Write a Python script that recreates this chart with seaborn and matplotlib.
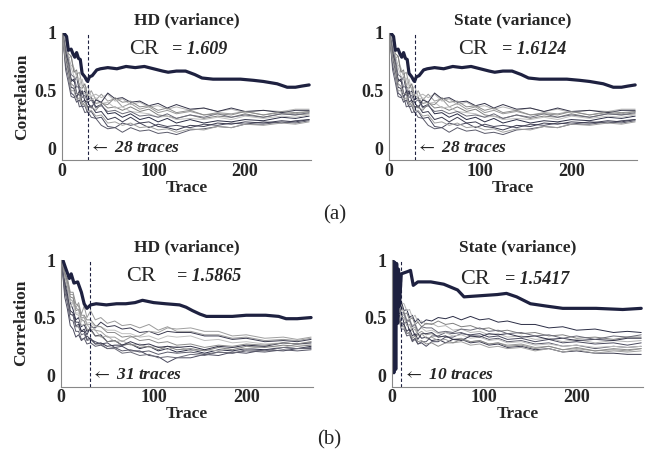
import numpy as np
import pandas as pd
import matplotlib
matplotlib.use("Agg")
import matplotlib.pyplot as plt
import seaborn as sns

# ---------------- data ----------------
TITLES = ["HD (variance)", "State (variance)", "HD (variance)", "State (variance)"]
CR_VALUES = ["1.609", "1.6124", "1.5865", "1.5417"]
TRACES_NEEDED = [28, 28, 31, 10]
X_TICKS = [0, 100, 200]
Y_TICKS = [0, 0.5, 1]
Y_TICK_LABELS = ["0", "0.5", "1"]

# correct-key curves
X_CA = [2, 5, 7, 10, 12, 14, 16, 18, 20, 22, 25, 27, 28, 30, 33, 38, 42, 50, 60, 70, 80, 90, 100,
        110, 116, 125, 135, 145, 153, 165, 180, 195, 209, 220, 235, 246, 255, 262, 270]
Y_CA = [1.0, 0.97, 0.85, 0.86, 0.82, 0.79, 0.83, 0.78, 0.77, 0.65, 0.62, 0.59, 0.58, 0.62, 0.63,
        0.68, 0.69, 0.70, 0.69, 0.71, 0.70, 0.71, 0.69, 0.67, 0.66, 0.67, 0.67, 0.64, 0.61, 0.60,
        0.60, 0.60, 0.59, 0.58, 0.56, 0.53, 0.53, 0.54, 0.55]
X_CB = [2, 5, 9, 11, 14, 18, 22, 25, 28, 32, 38, 49, 60, 70, 80, 88, 100, 113, 128, 135, 142,
        150, 157, 170, 185, 200, 221, 235, 243, 255, 270]
Y_CB = [1.0, 0.93, 0.84, 0.88, 0.80, 0.81, 0.72, 0.62, 0.58, 0.61, 0.62, 0.61, 0.62, 0.62, 0.63,
        0.65, 0.63, 0.62, 0.61, 0.59, 0.56, 0.53, 0.51, 0.51, 0.51, 0.52, 0.52, 0.51, 0.49, 0.49, 0.50]
X_CC = [1, 2, 3, 4, 5, 6, 7, 8, 10, 17, 20, 23, 28, 42, 56, 71, 78, 96, 114, 124, 135, 150, 167,
        185, 221, 250, 270]
Y_CC = [1.0, 0.02, 0.98, 0.05, 0.97, 0.45, 0.92, 0.60, 0.88, 0.90, 0.91, 0.78, 0.81, 0.81, 0.79,
        0.74, 0.68, 0.69, 0.70, 0.71, 0.68, 0.62, 0.60, 0.58, 0.58, 0.57, 0.58]

# wrong-key curves
X_G = [1, 4, 7, 10, 13, 16, 19, 22, 25, 28, 32, 37, 43, 50, 58, 66, 75, 85, 95, 105, 115, 125,
       140, 155, 170, 185, 200, 220, 240, 255, 270]
X_G2 = [4, 6, 8, 10, 13, 16, 19, 22, 25, 28, 32, 37, 43, 50, 58, 66, 75, 85, 95, 105, 115, 125,
        140, 155, 170, 185, 200, 220, 240, 255, 270]

G_A = [
    [1.0, 0.82, 0.72, 0.6, 0.58, 0.62, 0.5, 0.47, 0.5, 0.42, 0.44, 0.36, 0.38, 0.30, 0.31, 0.27, 0.30, 0.25, 0.27, 0.23, 0.26, 0.22, 0.25, 0.22, 0.24, 0.23, 0.25, 0.24, 0.27, 0.26, 0.28],
    [0.98, 0.9, 0.78, 0.8, 0.68, 0.64, 0.66, 0.55, 0.52, 0.45, 0.5, 0.42, 0.47, 0.41, 0.43, 0.36, 0.39, 0.34, 0.36, 0.31, 0.33, 0.30, 0.32, 0.29, 0.31, 0.30, 0.32, 0.29, 0.31, 0.30, 0.32],
    [0.95, 0.72, 0.62, 0.48, 0.46, 0.40, 0.42, 0.36, 0.37, 0.31, 0.32, 0.26, 0.27, 0.19, 0.18, 0.22, 0.20, 0.22, 0.18, 0.21, 0.19, 0.20, 0.18, 0.21, 0.20, 0.22, 0.21, 0.23, 0.22, 0.24, 0.25],
    [1.0, 0.88, 0.8, 0.72, 0.7, 0.62, 0.55, 0.6, 0.5, 0.54, 0.45, 0.47, 0.44, 0.47, 0.41, 0.43, 0.38, 0.40, 0.36, 0.37, 0.34, 0.36, 0.33, 0.35, 0.32, 0.34, 0.31, 0.33, 0.32, 0.34, 0.34],
    [0.97, 0.78, 0.67, 0.53, 0.52, 0.44, 0.5, 0.4, 0.42, 0.36, 0.37, 0.31, 0.32, 0.25, 0.27, 0.23, 0.27, 0.22, 0.23, 0.19, 0.18, 0.16, 0.2, 0.19, 0.22, 0.21, 0.23, 0.22, 0.24, 0.23, 0.25],
    [0.99, 0.93, 0.82, 0.8, 0.66, 0.68, 0.53, 0.52, 0.56, 0.46, 0.44, 0.39, 0.40, 0.35, 0.36, 0.33, 0.36, 0.32, 0.34, 0.29, 0.28, 0.26, 0.29, 0.26, 0.28, 0.27, 0.30, 0.27, 0.30, 0.29, 0.30],
    [0.96, 0.68, 0.57, 0.45, 0.44, 0.46, 0.36, 0.37, 0.31, 0.32, 0.27, 0.26, 0.20, 0.17, 0.18, 0.14, 0.18, 0.15, 0.16, 0.13, 0.14, 0.12, 0.16, 0.17, 0.19, 0.18, 0.21, 0.21, 0.23, 0.22, 0.24],
    [1.0, 0.9, 0.76, 0.7, 0.63, 0.6, 0.61, 0.5, 0.47, 0.48, 0.42, 0.44, 0.39, 0.40, 0.35, 0.36, 0.32, 0.31, 0.30, 0.27, 0.28, 0.25, 0.26, 0.25, 0.27, 0.25, 0.28, 0.26, 0.28, 0.27, 0.29],
    [0.98, 0.84, 0.74, 0.58, 0.6, 0.48, 0.46, 0.5, 0.41, 0.4, 0.35, 0.42, 0.4, 0.48, 0.43, 0.44, 0.40, 0.41, 0.37, 0.39, 0.35, 0.38, 0.34, 0.35, 0.32, 0.35, 0.32, 0.33, 0.31, 0.33, 0.33],
    [0.95, 0.76, 0.64, 0.5, 0.5, 0.42, 0.44, 0.38, 0.38, 0.33, 0.33, 0.28, 0.29, 0.22, 0.23, 0.20, 0.22, 0.18, 0.19, 0.16, 0.17, 0.14, 0.17, 0.16, 0.19, 0.18, 0.21, 0.20, 0.22, 0.21, 0.23],
    [1.0, 0.86, 0.77, 0.64, 0.62, 0.53, 0.54, 0.44, 0.46, 0.4, 0.42, 0.35, 0.37, 0.32, 0.33, 0.30, 0.32, 0.28, 0.29, 0.27, 0.30, 0.26, 0.29, 0.27, 0.30, 0.27, 0.29, 0.27, 0.30, 0.29, 0.31],
    [0.97, 0.8, 0.72, 0.56, 0.54, 0.48, 0.47, 0.38, 0.4, 0.35, 0.36, 0.33, 0.39, 0.38, 0.44, 0.40, 0.41, 0.36, 0.37, 0.33, 0.35, 0.31, 0.33, 0.29, 0.30, 0.29, 0.32, 0.29, 0.32, 0.31, 0.32],
]
G_B = [
    [0.98, 0.83, 0.74, 0.63, 0.57, 0.48, 0.5, 0.42, 0.44, 0.38, 0.40, 0.34, 0.35, 0.29, 0.30, 0.26, 0.27, 0.23, 0.25, 0.21, 0.23, 0.20, 0.22, 0.19, 0.22, 0.21, 0.23, 0.22, 0.24, 0.23, 0.25],
    [1.0, 0.88, 0.82, 0.7, 0.7, 0.58, 0.63, 0.53, 0.6, 0.5, 0.56, 0.48, 0.5, 0.45, 0.47, 0.43, 0.44, 0.41, 0.44, 0.39, 0.42, 0.38, 0.38, 0.35, 0.35, 0.32, 0.33, 0.30, 0.31, 0.30, 0.32],
    [0.96, 0.68, 0.57, 0.43, 0.4, 0.33, 0.35, 0.30, 0.32, 0.34, 0.31, 0.29, 0.27, 0.28, 0.24, 0.25, 0.21, 0.21, 0.17, 0.16, 0.11, 0.15, 0.15, 0.18, 0.17, 0.2, 0.19, 0.22, 0.21, 0.23, 0.23],
    [0.99, 0.86, 0.77, 0.58, 0.64, 0.53, 0.52, 0.43, 0.44, 0.44, 0.4, 0.39, 0.33, 0.34, 0.29, 0.30, 0.26, 0.27, 0.24, 0.25, 0.22, 0.25, 0.21, 0.22, 0.21, 0.24, 0.23, 0.25, 0.24, 0.27, 0.27],
    [0.97, 0.8, 0.7, 0.53, 0.52, 0.43, 0.44, 0.38, 0.4, 0.35, 0.42, 0.41, 0.46, 0.42, 0.43, 0.40, 0.41, 0.37, 0.38, 0.35, 0.38, 0.37, 0.37, 0.34, 0.34, 0.31, 0.32, 0.29, 0.30, 0.29, 0.31],
    [1.0, 0.9, 0.8, 0.68, 0.67, 0.56, 0.57, 0.48, 0.47, 0.4, 0.39, 0.34, 0.34, 0.29, 0.3, 0.26, 0.27, 0.24, 0.25, 0.22, 0.25, 0.22, 0.23, 0.21, 0.24, 0.22, 0.25, 0.24, 0.26, 0.25, 0.26],
    [0.95, 0.73, 0.62, 0.48, 0.47, 0.38, 0.38, 0.31, 0.32, 0.27, 0.28, 0.25, 0.26, 0.23, 0.24, 0.21, 0.22, 0.2, 0.21, 0.18, 0.2, 0.19, 0.2, 0.18, 0.2, 0.19, 0.21, 0.2, 0.22, 0.21, 0.22],
    [0.98, 0.84, 0.76, 0.64, 0.62, 0.54, 0.54, 0.46, 0.52, 0.45, 0.46, 0.42, 0.42, 0.39, 0.39, 0.36, 0.36, 0.33, 0.34, 0.31, 0.34, 0.33, 0.34, 0.30, 0.31, 0.28, 0.29, 0.27, 0.28, 0.27, 0.29],
    [0.99, 0.78, 0.67, 0.56, 0.54, 0.46, 0.46, 0.38, 0.38, 0.31, 0.32, 0.27, 0.28, 0.25, 0.26, 0.26, 0.29, 0.26, 0.27, 0.24, 0.25, 0.24, 0.25, 0.22, 0.25, 0.24, 0.26, 0.25, 0.28, 0.27, 0.28],
    [0.97, 0.86, 0.78, 0.66, 0.64, 0.58, 0.57, 0.5, 0.5, 0.44, 0.44, 0.39, 0.38, 0.33, 0.33, 0.29, 0.33, 0.34, 0.38, 0.37, 0.41, 0.4, 0.41, 0.38, 0.38, 0.34, 0.35, 0.32, 0.33, 0.31, 0.33],
    [0.96, 0.76, 0.66, 0.53, 0.52, 0.42, 0.42, 0.35, 0.36, 0.3, 0.31, 0.27, 0.27, 0.23, 0.23, 0.19, 0.2, 0.17, 0.18, 0.15, 0.16, 0.15, 0.18, 0.17, 0.2, 0.19, 0.22, 0.21, 0.24, 0.23, 0.24],
    [1.0, 0.88, 0.84, 0.72, 0.72, 0.62, 0.6, 0.52, 0.52, 0.48, 0.48, 0.43, 0.42, 0.37, 0.37, 0.33, 0.34, 0.30, 0.31, 0.28, 0.29, 0.26, 0.27, 0.24, 0.26, 0.25, 0.27, 0.26, 0.28, 0.27, 0.29],
]
G_C = [
    [0.62, 0.7, 0.58, 0.64, 0.56, 0.57, 0.5, 0.52, 0.46, 0.49, 0.45, 0.48, 0.47, 0.50, 0.49, 0.51, 0.48, 0.51, 0.48, 0.49, 0.46, 0.47, 0.44, 0.44, 0.41, 0.42, 0.39, 0.40, 0.37, 0.38, 0.37],
    [0.72, 0.63, 0.62, 0.53, 0.52, 0.46, 0.47, 0.40, 0.42, 0.36, 0.38, 0.35, 0.36, 0.33, 0.34, 0.31, 0.32, 0.29, 0.30, 0.27, 0.28, 0.26, 0.27, 0.24, 0.25, 0.22, 0.23, 0.21, 0.22, 0.21, 0.23],
    [0.55, 0.48, 0.47, 0.46, 0.44, 0.36, 0.37, 0.30, 0.32, 0.27, 0.28, 0.25, 0.29, 0.29, 0.33, 0.33, 0.36, 0.35, 0.36, 0.33, 0.34, 0.31, 0.32, 0.29, 0.31, 0.28, 0.29, 0.27, 0.28, 0.26, 0.28],
    [0.75, 0.7, 0.72, 0.63, 0.62, 0.56, 0.57, 0.5, 0.52, 0.46, 0.47, 0.44, 0.45, 0.42, 0.43, 0.39, 0.40, 0.37, 0.38, 0.35, 0.36, 0.33, 0.34, 0.31, 0.32, 0.29, 0.31, 0.28, 0.30, 0.29, 0.30],
    [0.6, 0.53, 0.52, 0.43, 0.44, 0.38, 0.4, 0.34, 0.36, 0.31, 0.36, 0.36, 0.37, 0.33, 0.34, 0.31, 0.31, 0.28, 0.29, 0.26, 0.27, 0.24, 0.25, 0.22, 0.23, 0.20, 0.21, 0.19, 0.19, 0.18, 0.18],
    [0.68, 0.72, 0.64, 0.62, 0.53, 0.54, 0.48, 0.5, 0.44, 0.46, 0.42, 0.45, 0.44, 0.47, 0.44, 0.45, 0.42, 0.43, 0.4, 0.41, 0.38, 0.39, 0.36, 0.37, 0.34, 0.35, 0.32, 0.33, 0.31, 0.33, 0.33],
    [0.5, 0.46, 0.47, 0.4, 0.4, 0.34, 0.35, 0.29, 0.31, 0.27, 0.29, 0.29, 0.34, 0.34, 0.37, 0.36, 0.37, 0.34, 0.34, 0.31, 0.32, 0.29, 0.30, 0.27, 0.28, 0.25, 0.26, 0.23, 0.25, 0.24, 0.25],
    [0.73, 0.64, 0.64, 0.56, 0.56, 0.48, 0.49, 0.43, 0.45, 0.39, 0.41, 0.38, 0.39, 0.36, 0.37, 0.34, 0.35, 0.32, 0.33, 0.30, 0.31, 0.28, 0.29, 0.26, 0.27, 0.25, 0.26, 0.24, 0.25, 0.24, 0.25],
    [0.58, 0.64, 0.53, 0.54, 0.45, 0.46, 0.38, 0.4, 0.34, 0.36, 0.32, 0.33, 0.30, 0.31, 0.28, 0.31, 0.30, 0.34, 0.33, 0.36, 0.35, 0.36, 0.33, 0.34, 0.31, 0.32, 0.30, 0.31, 0.30, 0.32, 0.32],
    [0.66, 0.58, 0.58, 0.5, 0.5, 0.43, 0.44, 0.38, 0.4, 0.34, 0.36, 0.32, 0.33, 0.3, 0.31, 0.28, 0.29, 0.26, 0.27, 0.24, 0.25, 0.23, 0.24, 0.21, 0.23, 0.2, 0.22, 0.19, 0.21, 0.2, 0.21],
    [0.7, 0.62, 0.6, 0.54, 0.54, 0.47, 0.48, 0.42, 0.44, 0.38, 0.42, 0.41, 0.41, 0.37, 0.38, 0.37, 0.40, 0.39, 0.41, 0.38, 0.39, 0.36, 0.37, 0.34, 0.35, 0.32, 0.34, 0.31, 0.34, 0.33, 0.35],
    [0.52, 0.48, 0.49, 0.42, 0.42, 0.36, 0.37, 0.32, 0.34, 0.29, 0.30, 0.27, 0.28, 0.25, 0.28, 0.28, 0.31, 0.29, 0.30, 0.27, 0.28, 0.25, 0.26, 0.23, 0.25, 0.22, 0.24, 0.21, 0.23, 0.22, 0.23],
]

GRAY_COLORS = ['#2b2d45', '#9a9a9a', '#4a4a5e', '#b5b5b5', '#3c3c50', '#808080',
               '#5a5a6a', '#c0c0c0', '#333348', '#a0a0a0', '#6b6b78', '#8c8c8c']
KEY_COLOR = '#1e2140'

# ---------------- style ----------------
sns.set_style("white")
plt.rcParams['font.family'] = ['Liberation Serif', 'DejaVu Serif']
plt.rcParams['mathtext.fontset'] = 'stix'

fig = plt.figure(figsize=(6.51, 4.58), dpi=100)

positions = [
    [0.0952, 0.6507, 0.3825, 0.2773],
    [0.5975, 0.6507, 0.3810, 0.2773],
    [0.0937, 0.1560, 0.3870, 0.2762],
    [0.6022, 0.1560, 0.3856, 0.2762],
]
panels = [
    (X_CA, Y_CA, X_G, G_A),
    (X_CA, Y_CA, X_G, G_A),
    (X_CB, Y_CB, X_G, G_B),
    (X_CC, Y_CC, X_G2, G_C),
]
cr_pos = [(0.27, 0.44, 0.87), (0.28, 0.455, 0.87), (0.26, 0.46, 0.87), (0.27, 0.45, 0.85)]

for i, (pos, (xc, yc, xg, gs)) in enumerate(zip(positions, panels)):
    ax = fig.add_axes(pos)
    for j, g in enumerate(gs):
        sns.lineplot(x=xg, y=g, ax=ax, color=GRAY_COLORS[j % len(GRAY_COLORS)],
                     linewidth=0.7, estimator=None, sort=False)
    sns.lineplot(x=xc, y=yc, ax=ax, color=KEY_COLOR, linewidth=2.3,
                 estimator=None, sort=False)
    n = TRACES_NEEDED[i]
    ax.axvline(n, color=KEY_COLOR, linestyle=(0, (3, 2)), linewidth=0.8)
    ax.text(n + 1.5, 0.0, r"$\leftarrow$" + " " + str(n) + " traces", fontsize=12.5,
            fontweight='bold', fontstyle='italic', va='center', ha='left')
    cx, ex, cy = cr_pos[i]
    ax.text(cx, cy, "CR", transform=ax.transAxes, fontsize=16, va='center', ha='left')
    ax.text(ex, cy, "= " + CR_VALUES[i], transform=ax.transAxes, fontsize=13,
            fontweight='bold', fontstyle='italic', va='center', ha='left')

    ax.set_xlim(0, 272)
    ax.set_ylim(-0.1, 1.0)
    ax.set_xticks(X_TICKS)
    ax.set_xticklabels([str(t) for t in X_TICKS], fontsize=13, fontweight='bold')
    ax.set_yticks(Y_TICKS)
    ax.set_yticklabels(Y_TICK_LABELS, fontsize=13, fontweight='bold')
    ax.tick_params(axis='both', direction='in', length=3, color='#888888', pad=2)
    ax.tick_params(axis='y', length=0, pad=4)
    for side in ['top', 'right']:
        ax.spines[side].set_visible(False)
    for side in ['left', 'bottom']:
        ax.spines[side].set_color('#888888')
        ax.spines[side].set_linewidth(0.8)
    ax.set_title(TITLES[i], fontsize=12.5, fontweight='bold', pad=6)
    ax.set_xlabel("Trace", fontsize=12.5, fontweight='bold', labelpad=0)
    if i % 2 == 0:
        ax.set_ylabel("Correlation", fontsize=12.5, fontweight='bold', labelpad=3)
    else:
        ax.set_ylabel("")
    ax.grid(False)

fig.text(335 / 651, 1 - 215 / 458, "(a)", fontsize=15, ha='center', va='center')
fig.text(329 / 651, 1 - 440 / 458, "(b)", fontsize=15, ha='center', va='center')

fig.savefig("out.png", dpi=100)
